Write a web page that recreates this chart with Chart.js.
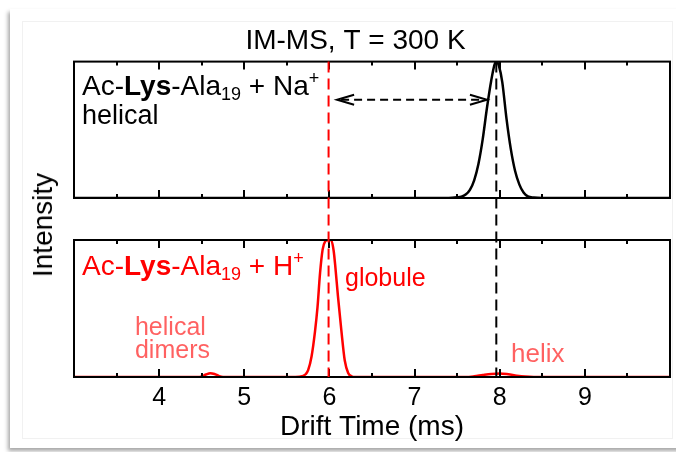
<!DOCTYPE html>
<html>
<head>
<meta charset="utf-8">
<script src="https://cdn.jsdelivr.net/npm/chart.js@4/dist/chart.umd.min.js"></script>
<style>
  html, body { margin: 0; padding: 0; background: #fff; }
  #stage { position: relative; width: 676px; height: 452px; overflow: hidden; background: #fff;
           font-family: 'Liberation Sans', Arial, sans-serif; }
  .card { position: absolute; left: 10px; top: 9px; width: 700px; height: 439px; background: #fff;
          box-shadow: -2px 3px 4px rgba(0,0,0,0.35); }
  .inner { position: absolute; left: 22px; top: 21px; width: 649px; height: 416px; border: 1px solid #f1f1f1; }
  .pane { position: absolute; left: 0; width: 676px; }
  #ylab { position: absolute; left: 43px; top: 225px; transform: translate(-50%, -50%) rotate(-90deg);
          font-size: 28px; line-height: 1; color: #000; white-space: nowrap; }
</style>
</head>
<body>
<div id="stage">
  <div class="card"></div>
  <div class="inner"></div>
  <div class="pane" style="top:0;height:220px"><canvas id="naChart"></canvas></div>
  <div class="pane" style="top:220px;height:232px"><canvas id="hChart"></canvas></div>
  <div id="ylab">Intensity</div>
</div>
<script>
const FAMILY = "'Liberation Sans', Arial, sans-serif";
Chart.defaults.font.family = FAMILY;

// Drift-time axis labels
const xTickLabels = ['4', '5', '6', '7', '8', '9'];

// Ac-Lys-Ala19 + Na+ (helical), normalised arrival-time distribution
const naDrift     = [3.0, 7.40, 7.50, 7.55, 7.60, 7.65, 7.70, 7.75, 7.80, 7.85, 7.90, 7.94, 7.965, 7.99, 8.03, 8.08, 8.13, 8.18, 8.23, 8.28, 8.33, 8.40, 8.50, 10.0];
const naIntensity = [0,   0,    0.005, 0.01, 0.025, 0.06, 0.13, 0.25, 0.43, 0.66, 0.86, 0.98, 1.0,  0.97, 0.85, 0.58, 0.36, 0.20, 0.10, 0.04, 0.012, 0.003, 0,  0];

// Ac-Lys-Ala19 + H+ : dimers, globule and a trace of helix
const hDrift     = [3.0, 4.45, 4.50, 4.55, 4.60, 4.65, 4.70, 4.75, 5.60, 5.68, 5.72, 5.75, 5.79, 5.83, 5.86, 5.89, 5.92, 5.95, 5.98, 6.02, 6.05, 6.07, 6.10, 6.14, 6.18, 6.22, 6.26, 6.30, 7.60, 7.70, 7.80, 7.90, 8.00, 8.10, 8.20, 8.30, 8.40, 10.0];
const hIntensity = [0,   0,    0.004, 0.018, 0.028, 0.022, 0.008, 0,   0,    0.006, 0.02, 0.05, 0.15, 0.33, 0.51, 0.76, 0.93, 0.99, 1.0,  1.0,  0.92, 0.80, 0.59, 0.34, 0.12, 0.03, 0.005, 0,   0,    0.005, 0.014, 0.022, 0.026, 0.02, 0.01, 0.003, 0,   0];

// Reference drift times marked by dashed guides
const globuleDrift = 5.99;
const helixDrift = 7.96;

// Double arrow between the two conformers (top panel)
const arrowFrom = 6.09, arrowTo = 7.85, arrowLevel = 0.72;

const RED = '#ff0000';
const LIGHT_RED = 'rgba(255,0,0,0.62)';

const dashGuides = [
  { name: 'globule', drift: globuleDrift, color: RED, from: 1.0 },
  { name: 'helix', drift: helixDrift, color: '#000', from: 1.0 }
];
const guideAnchor = {};

const notes = {
  upper: [
    { x: 3.094, y: 0.757, size: 28, color: '#000',
      parts: [{ t: 'Ac-' }, { t: 'Lys', bold: true }, { t: '-Ala' }, { t: '19', sub: true }, { t: ' + Na' }, { t: '+', sup: true }] },
    { x: 3.094, y: 0.544, size: 27, color: '#000', parts: [{ t: 'helical' }] }
  ],
  lower: [
    { x: 3.094, y: 0.745, size: 28, color: RED,
      parts: [{ t: 'Ac-' }, { t: 'Lys', bold: true }, { t: '-Ala' }, { t: '19', sub: true }, { t: ' + H' }, { t: '+', sup: true }] },
    { x: 6.183, y: 0.664, size: 25, color: RED, parts: [{ t: 'globule' }] },
    { x: 3.716, y: 0.307, size: 25, color: LIGHT_RED, parts: [{ t: 'helical' }] },
    { x: 3.716, y: 0.139, size: 25, color: LIGHT_RED, parts: [{ t: 'dimers' }] },
    { x: 8.133, y: 0.109, size: 26, color: LIGHT_RED, parts: [{ t: 'helix' }] }
  ]
};

function drawRich(ctx, x, y, parts, size, color) {
  let cx = x;
  ctx.textAlign = 'left';
  ctx.textBaseline = 'alphabetic';
  ctx.fillStyle = color;
  for (const p of parts) {
    const s = (p.sub || p.sup) ? Math.round(size * 0.64) : size;
    ctx.font = (p.bold ? 'bold ' : '') + s + 'px ' + FAMILY;
    const dy = p.sub ? size * 0.18 : (p.sup ? -size * 0.39 : 0);
    ctx.fillText(p.t, cx, y + dy);
    cx += ctx.measureText(p.t).width;
  }
}

// Box frame with inward tick marks on the top and bottom edges
const panelFrame = {
  id: 'panelFrame',
  afterDatasetsDraw(chart) {
    const { ctx, chartArea: a, scales: { x } } = chart;
    ctx.save();
    ctx.strokeStyle = '#000';
    ctx.lineWidth = 2;
    ctx.setLineDash([]);
    for (const t of x.ticks) {
      if (t.value <= x.min || t.value >= x.max) continue;
      const px = Math.round(x.getPixelForValue(t.value));
      const len = Number.isInteger(t.value) ? 8 : 4;
      ctx.beginPath();
      ctx.moveTo(px, a.top); ctx.lineTo(px, a.top + len);
      ctx.moveTo(px, a.bottom); ctx.lineTo(px, a.bottom - len);
      ctx.stroke();
    }
    ctx.strokeRect(a.left, a.top, a.right - a.left, a.bottom - a.top);
    ctx.restore();
  }
};

// Dashed guides running through both panels, labels and the arrow
const overlay = {
  id: 'overlay',
  afterDraw(chart, args, o) {
    const { ctx, scales: { x, y } } = chart;
    ctx.save();
    for (const g of dashGuides) {
      const px = x.getPixelForValue(g.drift);
      let y1, y2;
      if (o.role === 'upper') {
        y1 = y.getPixelForValue(g.from);
        y2 = chart.height + 2;
        guideAnchor[g.name] = y1 + o.offset;
      } else {
        y1 = -2;
        y2 = y.getPixelForValue(0);
      }
      const anchor = guideAnchor[g.name] !== undefined ? guideAnchor[g.name] : y1 + o.offset;
      ctx.strokeStyle = g.color;
      ctx.lineWidth = 2;
      ctx.setLineDash([11, 6]);
      ctx.lineDashOffset = (y1 + o.offset) - anchor;
      ctx.beginPath();
      ctx.moveTo(px, y1);
      ctx.lineTo(px, y2);
      ctx.stroke();
    }
    ctx.setLineDash([]);
    ctx.lineDashOffset = 0;

    if (o.role === 'upper') {
      const xa = x.getPixelForValue(arrowFrom);
      const xb = x.getPixelForValue(arrowTo);
      const ya = y.getPixelForValue(arrowLevel);
      ctx.strokeStyle = '#000';
      ctx.lineWidth = 2;
      ctx.setLineDash([8, 5]);
      ctx.beginPath();
      ctx.moveTo(xa + 4, ya);
      ctx.lineTo(xb - 4, ya);
      ctx.stroke();
      ctx.setLineDash([]);
      ctx.beginPath();
      ctx.moveTo(xa + 17, ya - 5); ctx.lineTo(xa, ya); ctx.lineTo(xa + 17, ya + 5);
      ctx.moveTo(xb - 17, ya - 5); ctx.lineTo(xb, ya); ctx.lineTo(xb - 17, ya + 5);
      ctx.stroke();
    }

    for (const n of notes[o.role]) {
      drawRich(ctx, x.getPixelForValue(n.x), y.getPixelForValue(n.y), n.parts, n.size, n.color);
    }
    ctx.restore();
  }
};

function toPoints(xs, ys) {
  return xs.map((v, i) => ({ x: v, y: ys[i] }));
}

function hiddenY() {
  return {
    min: 0, max: 1, display: true,
    ticks: { display: false },
    grid: { display: false, drawTicks: false },
    border: { display: false },
    afterFit(s) { s.width = 33; }
  };
}

function panelX(withLabels) {
  return {
    type: 'linear', min: 3, max: 10, display: true,
    ticks: {
      display: withLabels, stepSize: 0.5, maxTicksLimit: 20, autoSkip: false, maxRotation: 0,
      color: '#000', font: { size: 25 }, padding: 6,
      callback: v => xTickLabels.includes(String(v)) ? String(v) : ''
    },
    grid: { display: false, drawTicks: false },
    border: { display: false },
    title: { display: withLabels, text: 'Drift Time (ms)', color: '#000', font: { size: 28 }, padding: 0 },
    afterFit(s) { s.height = withLabels ? 67 : 0; }
  };
}

const base = {
  responsive: true,
  maintainAspectRatio: false,
  animation: false,
  devicePixelRatio: 1,
  events: []
};

new Chart(document.getElementById('naChart'), {
  type: 'line',
  data: {
    datasets: [{
      data: toPoints(naDrift, naIntensity),
      borderColor: '#000', borderWidth: 2.5, pointRadius: 0, fill: false,
      cubicInterpolationMode: 'monotone'
    }]
  },
  options: Object.assign({}, base, {
    layout: { padding: { left: 41, right: 6, top: 0, bottom: 22 } },
    scales: { x: panelX(false), y: hiddenY() },
    plugins: {
      legend: { display: false },
      tooltip: { enabled: false },
      title: { display: true, text: 'IM-MS, T = 300 K', color: '#000',
               font: { size: 28, weight: 'normal' }, padding: { top: 24, bottom: 4 } },
      overlay: { role: 'upper', offset: 0 }
    }
  }),
  plugins: [panelFrame, overlay]
});

new Chart(document.getElementById('hChart'), {
  type: 'line',
  data: {
    datasets: [{
      data: toPoints(hDrift, hIntensity),
      borderColor: RED, borderWidth: 2.5, pointRadius: 0, fill: false,
      cubicInterpolationMode: 'monotone'
    }]
  },
  options: Object.assign({}, base, {
    layout: { padding: { left: 41, right: 6, top: 20, bottom: 8 } },
    scales: { x: panelX(true), y: hiddenY() },
    plugins: {
      legend: { display: false },
      tooltip: { enabled: false },
      overlay: { role: 'lower', offset: 220 }
    }
  }),
  plugins: [panelFrame, overlay]
});
</script>
</body>
</html>
